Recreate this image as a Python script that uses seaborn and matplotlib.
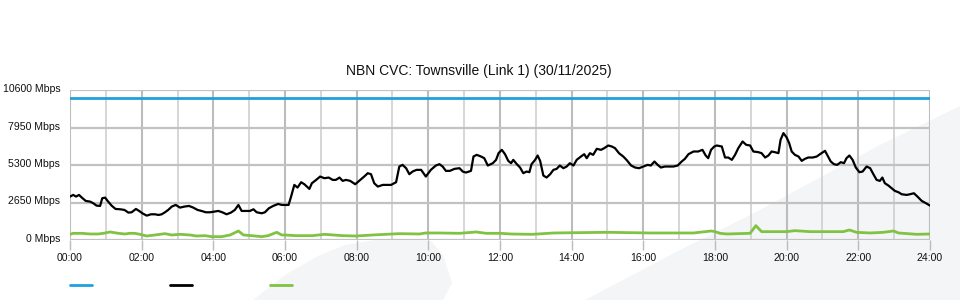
import matplotlib
matplotlib.use("Agg")
import matplotlib.pyplot as plt
import matplotlib.transforms as mtransforms
from matplotlib.patches import Polygon
from matplotlib.lines import Line2D
import numpy as np
import pandas as pd
import seaborn as sns

# ---------------- data ----------------
title = "NBN CVC: Townsville (Link 1) (30/11/2025)"
y_ticks = [0, 2650, 5300, 7950, 10600]
y_tick_labels = ["0 Mbps", "2650 Mbps", "5300 Mbps", "7950 Mbps", "10600 Mbps"]
x_tick_hours = list(range(0, 25, 2))
x_tick_labels = [f"{h:02d}:00" for h in x_tick_hours]

capacity_hours = [0.0, 24.0]
capacity_mbps = [10000, 10000]

traffic_hours = [
    0.00, 0.09, 0.17, 0.25, 0.33, 0.44, 0.56, 0.65, 0.74, 0.84, 0.90, 0.98,
    1.05, 1.16, 1.27, 1.40, 1.52, 1.63, 1.72, 1.84, 1.93, 2.02, 2.14, 2.26,
    2.37, 2.47, 2.56, 2.65, 2.74, 2.84, 2.95, 3.07, 3.19, 3.32, 3.44, 3.56,
    3.67, 3.79, 3.91, 4.02, 4.14, 4.25, 4.37, 4.49, 4.60, 4.70, 4.79, 4.93,
    5.02, 5.12, 5.21, 5.35, 5.44, 5.55, 5.67, 5.81, 5.91, 6.03, 6.10, 6.17,
    6.26, 6.35, 6.45, 6.54, 6.68, 6.75, 6.87, 6.98, 7.10, 7.22, 7.33, 7.42,
    7.52, 7.61, 7.70, 7.82, 7.96, 8.07, 8.21, 8.31, 8.40, 8.49, 8.59, 8.73,
    8.87, 8.96, 9.10, 9.19, 9.28, 9.38, 9.47, 9.56, 9.67, 9.80, 9.93, 10.07,
    10.21, 10.31, 10.40, 10.49, 10.60, 10.73, 10.87, 10.96, 11.05, 11.19, 11.26, 11.35,
    11.47, 11.56, 11.66, 11.80, 11.89, 11.96, 12.05, 12.14, 12.23, 12.31, 12.37, 12.47,
    12.56, 12.65, 12.74, 12.82, 12.88, 12.98, 13.05, 13.12, 13.21, 13.30, 13.40, 13.49,
    13.58, 13.67, 13.77, 13.86, 13.95, 14.05, 14.14, 14.26, 14.35, 14.42, 14.51, 14.60,
    14.70, 14.82, 14.91, 15.02, 15.12, 15.21, 15.32, 15.44, 15.53, 15.66, 15.77, 15.88,
    16.00, 16.12, 16.21, 16.31, 16.40, 16.49, 16.60, 16.72, 16.84, 16.96, 17.07, 17.16,
    17.26, 17.40, 17.53, 17.65, 17.74, 17.81, 17.89, 17.98, 18.05, 18.19, 18.28, 18.37,
    18.47, 18.56, 18.65, 18.77, 18.87, 18.98, 19.07, 19.21, 19.30, 19.40, 19.49, 19.58,
    19.67, 19.77, 19.83, 19.91, 20.00, 20.07, 20.14, 20.23, 20.33, 20.42, 20.51, 20.60,
    20.73, 20.84, 20.93, 21.07, 21.13, 21.23, 21.32, 21.41, 21.51, 21.60, 21.67, 21.75,
    21.84, 21.93, 22.03, 22.12, 22.23, 22.33, 22.42, 22.51, 22.60, 22.67, 22.74, 22.84,
    22.93, 23.02, 23.12, 23.21, 23.35, 23.44, 23.55, 23.65, 23.77, 23.89, 24.00,
]
traffic_mbps = [
    3068, 3186, 3068, 3186, 2997, 2761, 2714, 2596, 2431, 2407, 2950, 2997,
    2761, 2431, 2195, 2171, 2124, 1935, 1959, 2195, 2053, 1888, 1723, 1817,
    1817, 1770, 1817, 1959, 2124, 2360, 2478, 2289, 2360, 2407, 2289, 2124,
    2053, 1959, 1959, 2006, 2053, 1959, 1817, 1935, 2124, 2478, 2053, 2053,
    2053, 2171, 1959, 1888, 1959, 2242, 2407, 2549, 2478, 2478, 2478, 3068,
    3894, 3705, 4083, 3941, 3611, 4012, 4248, 4484, 4366, 4413, 4248, 4248,
    4413, 4177, 4248, 4177, 3941, 4177, 4484, 4720, 4649, 4012, 3776, 3894,
    3894, 3894, 4083, 5192, 5310, 5074, 4649, 4838, 4956, 4956, 4484, 4956,
    5263, 5357, 5192, 4885, 4885, 5027, 5074, 4838, 4767, 4885, 5900, 6018,
    5900, 5782, 5263, 5428, 5664, 6136, 6372, 6065, 5593, 5428, 5664, 5357,
    5121, 4720, 4838, 4791, 5357, 5664, 5971, 5593, 4555, 4413, 4649, 4956,
    5027, 5263, 5074, 5192, 5428, 5263, 5664, 5900, 6065, 5782, 6136, 6018,
    6443, 6372, 6490, 6679, 6608, 6490, 6136, 5900, 5664, 5263, 5121, 5074,
    5192, 5310, 5263, 5546, 5310, 5121, 5192, 5192, 5192, 5263, 5546, 5735,
    6065, 6254, 6254, 6372, 5971, 5782, 6372, 6608, 6679, 6608, 5829, 5829,
    5664, 6018, 6490, 6962, 6726, 6679, 6254, 6207, 6136, 5829, 5971, 6254,
    6207, 6136, 7080, 7552, 7245, 6844, 6254, 6018, 5900, 5593, 5735, 5829,
    5829, 5900, 6065, 6301, 6018, 5546, 5357, 5310, 5499, 5428, 5782, 5971,
    5664, 5121, 4791, 4838, 5192, 5074, 4649, 4248, 4177, 4413, 4012, 3847,
    3658, 3469, 3375, 3233, 3186, 3233, 3304, 3068, 2761, 2596, 2431,
]

other_hours = [
    0.00, 0.09, 0.33, 0.56, 0.79, 0.93, 1.12, 1.35, 1.53, 1.67, 1.81, 1.95,
    2.14, 2.37, 2.65, 2.84, 3.07, 3.35, 3.53, 3.77, 3.95, 4.23, 4.47, 4.70,
    4.84, 5.07, 5.35, 5.53, 5.77, 5.91, 6.00, 6.31, 6.77, 7.10, 7.61, 7.98,
    8.45, 9.19, 9.75, 9.93, 10.31, 10.87, 11.33, 11.62, 12.01, 12.30, 12.90, 13.50,
    14.20, 15.00, 15.60, 16.20, 16.80, 17.40, 17.90, 18.00, 18.14, 18.33, 18.98, 19.14,
    19.30, 20.00, 20.23, 20.65, 21.58, 21.75, 21.95, 22.33, 22.70, 22.98, 23.12, 23.63,
    24.00,
]
other_mbps = [
    401, 472, 472, 425, 425, 472, 566, 472, 425, 472, 472, 401,
    283, 354, 448, 354, 401, 354, 283, 307, 236, 236, 354, 637,
    354, 307, 236, 307, 543, 354, 354, 307, 307, 401, 307, 283,
    354, 448, 425, 496, 496, 472, 566, 472, 472, 425, 401, 496,
    519, 543, 519, 496, 496, 496, 637, 590, 472, 425, 472, 1015,
    590, 590, 661, 590, 590, 708, 543, 496, 543, 637, 496, 401,
    425,
]

# ---------------- style ----------------
sns.set_theme(style="white")
plt.rcParams["font.family"] = ["Liberation Sans", "DejaVu Sans"]

BLUE = "#1fa0dc"
BLACK = "#000000"
GREEN = "#80c342"

W, H = 960, 300
fig = plt.figure(figsize=(W / 100, H / 100), dpi=100)
fig.patch.set_facecolor("white")

# faint background watermark shapes (figure pixel coords)
def fig_poly(pts, color):
    xy = [(x / W, 1 - y / H) for x, y in pts]
    fig.patches.append(Polygon(xy, closed=True, transform=fig.transFigure,
                               facecolor=color, edgecolor="none", zorder=-10))

fig_poly([(585, 300), (680, 250), (760, 210), (880, 145), (960, 106), (960, 300)], "#f4f5f7")
fig_poly([(253, 300), (285, 275), (318, 256), (345, 245), (375, 240),
          (430, 240), (443, 255), (452, 283), (443, 300)], "#f4f5f7")

ax = fig.add_axes([70 / W, 60 / H, 860 / W, 150 / H])
ax.set_facecolor("none")

df_cap = pd.DataFrame({"hour": capacity_hours, "mbps": capacity_mbps})
df_tr = pd.DataFrame({"hour": traffic_hours, "mbps": traffic_mbps})
df_ot = pd.DataFrame({"hour": other_hours, "mbps": other_mbps})

sns.lineplot(data=df_cap, x="hour", y="mbps", ax=ax, color=BLUE, linewidth=2.0, zorder=5)
sns.lineplot(data=df_ot, x="hour", y="mbps", ax=ax, color=GREEN, linewidth=2.0, zorder=6)
sns.lineplot(data=df_tr, x="hour", y="mbps", ax=ax, color=BLACK, linewidth=1.6, zorder=7)

ax.set_xlim(0, 24)
ax.set_ylim(0, 10600)
ax.set_xlabel("")
ax.set_ylabel("")

# grid
for h in range(0, 25):
    if h % 2 == 0:
        ax.axvline(h, color="#bcbcbc", linewidth=1.5, zorder=1)
    else:
        ax.axvline(h, color="#cfcfcf", linewidth=1.2, zorder=1)
for v in y_ticks:
    ax.axhline(v, color="#c2c2c2", linewidth=1.6, zorder=1)

for s in ax.spines.values():
    s.set_visible(False)

ax.set_xticks(x_tick_hours)
ax.set_xticklabels(x_tick_labels)
ax.set_yticks(y_ticks)
ax.set_yticklabels(y_tick_labels)
ax.tick_params(axis="x", length=7.5, width=1.0, color="#bcbcbc", pad=2,
               labelsize=7.6, labelcolor="#111111", bottom=True)
ax.tick_params(axis="y", length=0, pad=7, labelsize=7.6, labelcolor="#111111", left=False)
off = mtransforms.ScaledTranslation(0, 2 / 100, fig.dpi_scale_trans)
for lab in ax.get_yticklabels():
    lab.set_transform(lab.get_transform() + off)

fig.text(479 / W, 1 - 71 / H, title, ha="center", va="center", fontsize=10, color="#111111")

# legend swatches (no text)
for x0, c in [(70, BLUE), (170, BLACK), (270, GREEN)]:
    fig.add_artist(Line2D([x0 / W, (x0 + 22) / W], [1 - 285 / H, 1 - 285 / H],
                          transform=fig.transFigure, color=c, linewidth=2.0))

fig.savefig("out.png", dpi=100)
